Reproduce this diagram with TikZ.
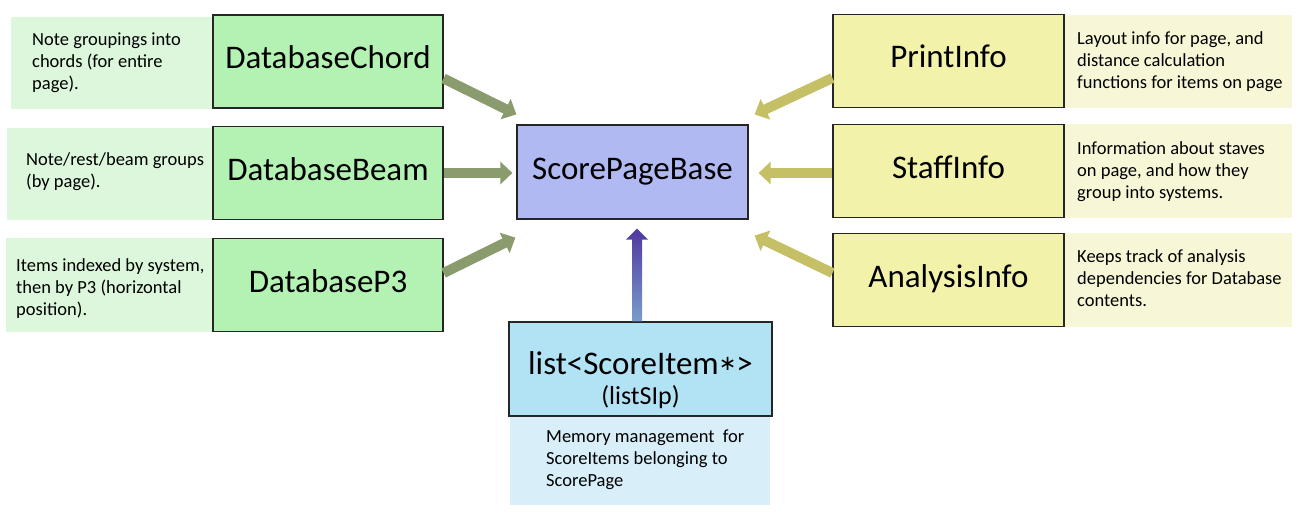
\documentclass[tikz,border=0pt]{standalone}
\usepackage{fontspec}
\setmainfont{Carlito}
\newfontfamily\djv{DejaVu Sans}
\usetikzlibrary{arrows.meta,calc}
\definecolor{gbox}{HTML}{B4F2B4}
\definecolor{gdesc}{HTML}{DCF7DC}
\definecolor{bbox}{HTML}{B1B9F3}
\definecolor{ybox}{HTML}{F2F2AA}
\definecolor{ydesc}{HTML}{F7F7D7}
\definecolor{cbox}{HTML}{B2E3F5}
\definecolor{cdesc}{HTML}{D8EFF9}
\definecolor{garrow}{HTML}{8A9B6E}
\definecolor{yarrow}{HTML}{C5BF65}
\definecolor{ptop}{HTML}{5038A0}
\definecolor{pbot}{HTML}{7A9CCB}
\begin{document}
\begin{tikzpicture}[x=1pt,y=-1pt,
  box/.style={draw=black!85, line width=1.2pt, minimum width=230pt, minimum height=93pt, inner sep=0pt,
    text height=20pt, text depth=6pt, font=\fontsize{33}{38}\selectfont},
  desc/.style={anchor=west, align=left, inner sep=0pt, font=\fontsize{18.5}{22}\selectfont},
  fat/.style={line width=10pt, -{Triangle[length=12pt,width=22pt]}}
]
\useasboundingbox (0,0) rectangle (1300,516);
% left descriptions
\fill[gdesc] (11,17) rectangle (213,109);
\fill[gdesc] (7,128) rectangle (213,220);
\fill[gdesc] (6,238) rectangle (213,332);
\node[desc] (d1) at (32,63) {Note groupings into\\chords (for entire\\page).};
\node[desc] (d2) at (26,172) {Note/rest/beam groups\\(by page).};
\node[desc] (d3) at (16,289) {Items indexed by system,\\then by P3 (horizontal\\position).};
% left boxes
\node[box, fill=gbox] (chord) at (328,61.5) {DatabaseChord};
\node[box, fill=gbox] (beam) at (328,173) {DatabaseBeam};
\node[box, fill=gbox] (p3) at (328,285) {DatabaseP3};
% centre
\node[box, fill=bbox, minimum width=231pt, minimum height=94pt] (spb) at (632.5,172) {ScorePageBase};
% right descriptions
\fill[ydesc] (1064,15) rectangle (1292,108);
\fill[ydesc] (1064,124) rectangle (1292,218);
\fill[ydesc] (1064,233) rectangle (1292,327);
\node[desc] (r1) at (1077,62) {Layout info for page, and\\distance calculation\\functions for items on page};
\node[desc] (r2) at (1077,172) {Information about staves\\on page, and how they\\group into systems.};
\node[desc] (r3) at (1077,278) {Keeps track of analysis\\dependencies for Database\\contents.};
% right boxes
\node[box, fill=ybox, minimum width=231pt] (print) at (948.5,61) {PrintInfo};
\node[box, fill=ybox, minimum width=231pt] (staff) at (948.5,171) {StaffInfo};
\node[box, fill=ybox, minimum width=231pt] (anal) at (948.5,280) {AnalysisInfo};
% bottom
\fill[cdesc] (510,416) rectangle (770,505);
\node[desc] (bd) at (546,460) {Memory management\ \ for\\ScoreItems belonging to\\ScorePage};
\node[box, fill=cbox, minimum width=263pt, minimum height=94pt, text height=20pt, text depth=10pt,
  font=\fontsize{33}{30}\selectfont] (list) at (640.5,369)
  {\begin{tabular}[t]{@{}c@{}}list<ScoreItem\raisebox{3.5pt}{\djv\fontsize{21}{30}\selectfont ∗}>\\{\fontsize{26}{30}\selectfont(listSIp)}\end{tabular}};
% arrows left
\draw[fat, garrow] ($(chord.east)+(0,17)$) -- ($(spb.north west)+(0,-10)$);
\draw[fat, garrow] ($(beam.east)+(0,0)$) -- ($(spb.west)+(-4,1)$);
\draw[fat, garrow] ($(p3.east)+(0,-12)$) -- ($(spb.south west)+(-1,18)$);
% arrows right
\draw[fat, yarrow] ($(print.west)+(0,17)$) -- ($(spb.north east)+(6,-10)$);
\draw[fat, yarrow] ($(staff.west)+(0,2)$) -- ($(spb.east)+(10,1)$);
\draw[fat, yarrow] ($(anal.west)+(0,-7)$) -- ($(spb.south east)+(6,16)$);
% bottom shaded arrow
\coordinate (tip) at ($(spb.south)+(4.5,9)$);
\coordinate (base) at ($(list.north)+(-3.5,0)$);
\shade[top color=ptop, bottom color=pbot]
  ($(base)+(-5,0)$) -- ($(tip)+(-5,11)$) -- ($(tip)+(-11,11)$) -- (tip)
  -- ($(tip)+(11,11)$) -- ($(tip)+(5,11)$) -- ($(base)+(5,0)$) -- cycle;
\end{tikzpicture}
\end{document}
